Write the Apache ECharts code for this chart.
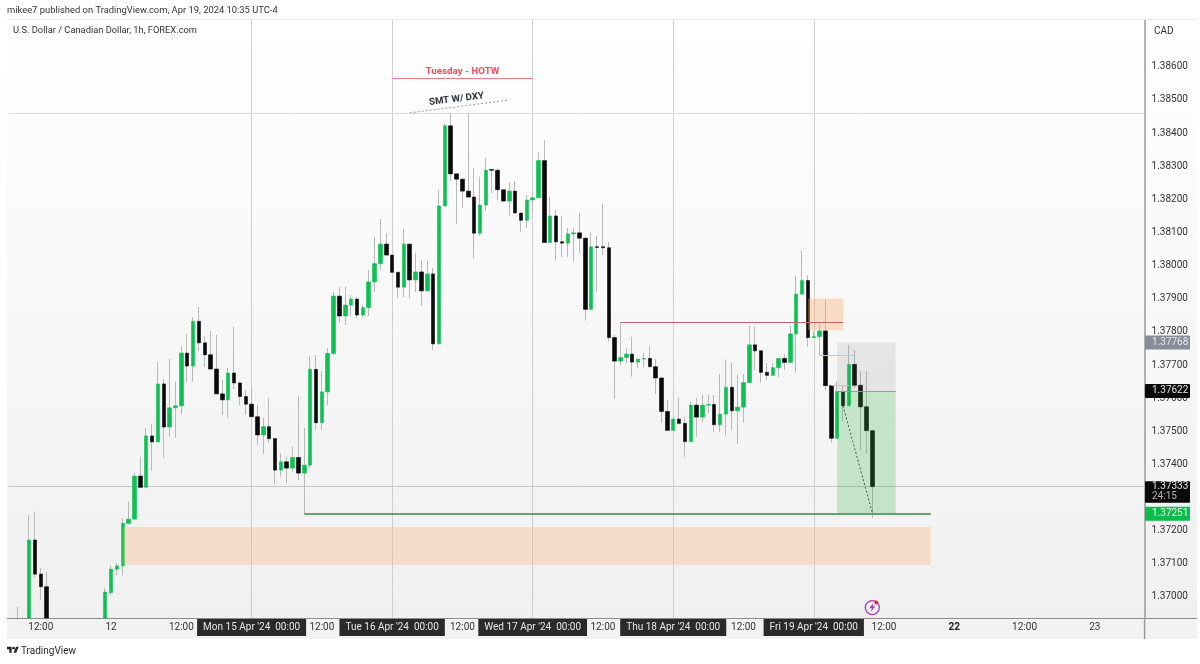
<!DOCTYPE html>
<html>
<head>
<meta charset="utf-8">
<title>USDCAD 1h</title>
<script src="https://cdn.jsdelivr.net/npm/echarts@6/dist/echarts.min.js"></script>
<style>
html, body { margin: 0; padding: 0; background: #fff; }
#chart { width: 1200px; height: 664px; }
</style>
</head>
<body>
<div id="chart"></div>
<script>
// USD/CAD 1h candles, one row per bar, null = nothing visible on the chart
var opens = [
  null,1.36880,1.36890,1.36900,1.37172,1.37069,1.37031,null,null,null,
  null,null,null,null,null,null,1.36900,1.37013,1.37084,1.37094,
  1.37222,1.37235,1.37365,1.37331,1.37486,1.37468,1.37643,1.37513,1.37571,1.37577,
  1.37736,1.37697,1.37832,1.37767,1.37731,1.37688,1.37613,1.37595,1.37676,1.37646,
  1.37605,1.37582,1.37544,1.37489,1.37514,1.37478,1.37383,1.37408,1.37389,1.37421,
  1.37374,1.37398,1.37687,1.37526,1.37619,1.37735,1.37908,1.37848,1.37881,1.37899,
  1.37851,1.37873,1.37951,1.38006,1.38065,1.38032,1.37980,1.37935,1.38065,1.37957,
  1.37981,1.37924,1.37975,1.37764,1.38180,1.38422,1.38277,1.38261,1.38225,1.38207,
  1.38098,1.38183,1.38290,1.38288,1.38229,1.38195,1.38225,1.38159,1.38137,1.38198,
  1.38205,1.38317,1.38070,1.38150,1.38072,1.38068,1.38096,1.38099,1.38083,1.37868,
  1.38057,1.38057,1.38054,1.37783,1.37712,1.37723,1.37733,1.37709,1.37718,1.37720,
  1.37695,1.37661,1.37560,1.37503,1.37537,1.37524,1.37469,1.37579,1.37543,1.37579,
  1.37581,1.37520,1.37552,1.37633,1.37562,1.37573,1.37647,1.37761,1.37743,1.37678,
  1.37669,1.37692,1.37720,1.37708,1.37794,1.37914,1.37955,1.37783,1.37786,1.37803,
  1.37638,1.37479,1.37620,1.37577,1.37702,1.37639,1.37574,1.37502
];
var closes = [
  null,1.36900,1.36870,1.37172,1.37069,1.37031,1.36910,null,null,null,
  null,null,null,null,null,null,1.37015,1.37084,1.37094,1.37222,
  1.37235,1.37365,1.37331,1.37486,1.37468,1.37643,1.37513,1.37571,1.37577,1.37736,
  1.37697,1.37832,1.37767,1.37731,1.37688,1.37613,1.37595,1.37676,1.37646,1.37605,
  1.37582,1.37544,1.37489,1.37514,1.37478,1.37383,1.37408,1.37389,1.37421,1.37374,
  1.37398,1.37687,1.37526,1.37619,1.37735,1.37908,1.37848,1.37881,1.37899,1.37851,
  1.37873,1.37951,1.38006,1.38065,1.38032,1.37980,1.37935,1.38065,1.37957,1.37981,
  1.37924,1.37975,1.37764,1.38180,1.38422,1.38277,1.38261,1.38225,1.38207,1.38098,
  1.38183,1.38288,1.38288,1.38229,1.38195,1.38225,1.38159,1.38137,1.38198,1.38205,
  1.38317,1.38070,1.38150,1.38072,1.38068,1.38096,1.38099,1.38083,1.37868,1.38057,
  1.38055,1.38054,1.37783,1.37712,1.37723,1.37733,1.37709,1.37718,1.37720,1.37695,
  1.37661,1.37560,1.37503,1.37537,1.37524,1.37469,1.37579,1.37543,1.37579,1.37581,
  1.37520,1.37552,1.37633,1.37562,1.37573,1.37647,1.37761,1.37743,1.37678,1.37669,
  1.37692,1.37720,1.37708,1.37794,1.37914,1.37955,1.37783,1.37786,1.37803,1.37638,
  1.37479,1.37620,1.37577,1.37702,1.37639,1.37574,1.37502,1.37333
];
var lows = [
  null,1.36860,1.36850,1.36880,1.37060,1.36991,1.36890,null,null,null,
  null,null,null,null,null,null,1.36880,1.37006,1.37066,1.37066,
  1.37222,1.37235,1.37331,1.37331,1.37381,1.37468,1.37419,1.37483,1.37480,1.37552,
  1.37650,1.37650,1.37742,1.37694,1.37685,1.37613,1.37549,1.37540,1.37628,1.37579,
  1.37549,1.37544,1.37457,1.37432,1.37465,1.37341,1.37363,1.37344,1.37378,1.37353,
  1.37251,1.37389,1.37504,1.37504,1.37579,1.37730,1.37827,1.37821,1.37846,1.37842,
  1.37843,1.37848,1.37921,1.37987,1.38032,1.37980,1.37902,1.37905,1.37902,1.37921,
  1.37879,1.37924,1.37745,1.37764,1.38180,1.38256,1.38126,1.38174,1.38207,1.38023,
  1.38090,1.38166,1.38219,1.38198,1.38192,1.38151,1.38159,1.38102,1.38114,1.38163,
  1.38205,1.38070,1.38070,1.38015,1.38026,1.38026,1.38012,1.38038,1.37834,1.37868,
  1.37921,1.38032,1.37771,1.37598,1.37700,1.37706,1.37665,1.37691,1.37692,1.37695,
  1.37613,1.37525,1.37503,1.37503,1.37520,1.37423,1.37469,1.37484,1.37528,1.37555,
  1.37499,1.37499,1.37487,1.37504,1.37462,1.37526,1.37647,1.37685,1.37647,1.37655,
  1.37669,1.37664,1.37685,1.37708,1.37677,1.37914,1.37755,1.37783,1.37730,1.37625,
  1.37465,1.37479,1.37529,1.37577,1.37631,1.37444,1.37432,1.37238
];
var highs = [
  null,1.36970,1.36940,1.37247,1.37257,1.37088,1.37076,null,null,null,
  null,null,null,null,null,null,1.37027,1.37095,1.37103,1.37238,
  1.37288,1.37374,1.37423,1.37510,1.37522,1.37710,1.37658,1.37718,1.37650,1.37758,
  1.37794,1.37845,1.37875,1.37788,1.37803,1.37791,1.37655,1.37691,1.37816,1.37650,
  1.37625,1.37634,1.37579,1.37541,1.37601,1.37478,1.37435,1.37423,1.37454,1.37607,
  1.37510,1.37727,1.37730,1.37683,1.37751,1.37921,1.37936,1.37937,1.37911,1.37905,
  1.37881,1.37987,1.38087,1.38141,1.38099,1.38032,1.37980,1.38111,1.38065,1.38038,
  1.38017,1.38015,1.37993,1.38228,1.38430,1.38461,1.38277,1.38261,1.38461,1.38295,
  1.38268,1.38325,1.38292,1.38293,1.38229,1.38252,1.38256,1.38159,1.38213,1.38222,
  1.38341,1.38379,1.38208,1.38168,1.38148,1.38114,1.38114,1.38159,1.38083,1.38102,
  1.38090,1.38186,1.38072,1.37791,1.37830,1.37751,1.37785,1.37718,1.37736,1.37758,
  1.37718,1.37661,1.37595,1.37537,1.37601,1.37543,1.37589,1.37601,1.37610,1.37610,
  1.37610,1.37673,1.37717,1.37707,1.37670,1.37673,1.37818,1.37816,1.37743,1.37706,
  1.37706,1.37720,1.37733,1.37818,1.37970,1.38045,1.37970,1.37800,1.37821,1.37899,
  1.37638,1.37650,1.37640,1.37761,1.37745,1.37680,1.37682,1.37502
];

var barCount = 194;
var priceMin = 1.369366, priceMax = 1.387414;
var priceTicks = [1.370,1.371,1.372,1.373,1.374,1.375,1.376,1.377,1.378,1.379,1.380,1.381,1.382,1.383,1.384,1.385,1.386];
var timeTickBars = [5,17,29,41,53,65,77,89,101,113,125,137,149,161,173,185];
var timeTickLabels = ['12:00','12','12:00',"Mon 15 Apr '24  00:00",'12:00',"Tue 16 Apr '24  00:00",'12:00',"Wed 17 Apr '24  00:00",'12:00',"Thu 18 Apr '24  00:00",'12:00',"Fri 19 Apr '24  00:00",'12:00','22','12:00','23'];
var daySeparatorBars = [41,65,89,113,137];

// levels drawn on the chart
var lastClose = 1.37333, weekHigh = 1.38461;
var entryLevel = 1.37622, stopLevel = 1.37768, targetLevel = 1.37251;
var demandZone = [1.37097, 1.37211], supplyZone = [1.37805, 1.37901];
var priceTags = [
  { price: stopLevel, text: '1.37768', bg: '#8a8d99', color: '#e8e8ee' },
  { price: entryLevel, text: '1.37622', bg: '#0a0a0a', color: '#e6e6e6' },
  { price: lastClose, text: '1.37333', sub: '24:15', bg: '#0a0a0a', color: '#e6e6e6' },
  { price: targetLevel, text: '1.37251', bg: '#0dbb4c', color: '#e9fff0' }
];

var UP = '#0fc055', DOWN = '#0a0a0a', WICK = '#b9b9b9';
var FONT = 'Roboto, "Liberation Sans", sans-serif';

function buildCategories() {
  var a = [];
  for (var i = 0; i < barCount; i++) a.push(String(i));
  return a;
}

// candlestick does not cut a bar at the grid edge, so hold the drawn values at the axis min
function floorToAxis(v) {
  return Math.max(v, priceMin);
}

function wickData() {
  return opens.map(function (o, i) {
    if (o === null) return '-';
    return [floorToAxis(o), floorToAxis(closes[i]), floorToAxis(lows[i]), floorToAxis(highs[i])];
  });
}

// wicks are grey and bodies are not, so the bodies get their own series
function bodyData() {
  return opens.map(function (o, i) {
    if (o === null || Math.max(o, closes[i]) < priceMin) return '-';
    var a = floorToAxis(o), b = floorToAxis(closes[i]);
    return [a, b, Math.min(a, b), Math.max(a, b)];
  });
}

function segment(x1, y1, x2, y2, color, width, type) {
  return [
    { coord: [x1, y1], lineStyle: { color: color, width: width, type: type || 'solid' } },
    { coord: [x2, y2] }
  ];
}

function labelFor(value, index) {
  var k = timeTickBars.indexOf(index);
  if (k < 0) return '';
  var t = timeTickLabels[k];
  if (t.length > 6) return '{box|' + t + '}';
  if (t === '22') return '{bold|' + t + '}';
  return '{plain|' + t + '}';
}

var myChart = echarts.init(document.getElementById('chart'), null, { renderer: 'canvas' });

var option = {
  animation: false,
  backgroundColor: '#ffffff',
  textStyle: { fontFamily: FONT },
  grid: { left: 8.6, top: 20, width: 1136, height: 598, containLabel: false },
  xAxis: {
    type: 'category',
    data: buildCategories(),
    boundaryGap: true,
    axisLine: { show: true, lineStyle: { color: '#8c8c8c', width: 1 } },
    axisTick: { show: false },
    splitLine: { show: false },
    axisLabel: {
      interval: function (index) { return timeTickBars.indexOf(index) >= 0; },
      margin: 0,
      hideOverlap: false,
      formatter: labelFor,
      rich: {
        plain: { color: '#333333', fontSize: 10, fontFamily: FONT, lineHeight: 18, height: 18 },
        bold: { color: '#222222', fontSize: 10, fontWeight: 'bold', fontFamily: FONT, lineHeight: 18, height: 18 },
        box: { color: '#e8e8e8', fontSize: 10, fontFamily: FONT, lineHeight: 18, height: 18, backgroundColor: '#2a2a2a', padding: [0, 6] }
      }
    }
  },
  yAxis: {
    type: 'value',
    position: 'right',
    scale: true,
    min: priceMin,
    max: priceMax,
    axisLine: { show: true, lineStyle: { color: '#9a9a9a', width: 1.5 } },
    axisTick: { show: false },
    splitLine: { show: false },
    axisLabel: {
      customValues: priceTicks,
      margin: 7,
      color: '#333333',
      fontSize: 10,
      fontFamily: FONT,
      formatter: function (v) { return v.toFixed(5); }
    }
  },
  series: [
    {
      name: 'guides',
      type: 'line',
      data: [],
      z: 1,
      silent: true,
      markLine: {
        silent: true,
        z: 1,
        precision: 5,
        symbol: 'none',
        label: { show: false },
        data: daySeparatorBars.map(function (b) {
          return { xAxis: b, lineStyle: { color: '#cfcfcf', width: 1, type: 'solid' } };
        }).concat([
          { yAxis: weekHigh, lineStyle: { color: '#dcdcdc', width: 1, type: 'solid' } },
          { yAxis: lastClose, lineStyle: { color: '#c4c4c4', width: 1, type: 'solid' } }
        ])
      }
    },
    {
      name: 'wicks',
      type: 'candlestick',
      z: 2,
      barWidth: 1,
      data: wickData(),
      itemStyle: { color: WICK, color0: WICK, borderColor: WICK, borderColor0: WICK, borderWidth: 1 }
    },
    {
      name: 'USD/CAD',
      type: 'candlestick',
      z: 3,
      barWidth: 4,
      data: bodyData(),
      itemStyle: { color: UP, color0: DOWN, borderColor: UP, borderColor0: DOWN, borderWidth: 0.6 }
    },
    {
      name: 'drawings',
      type: 'line',
      data: [],
      z: 4,
      silent: true,
      markArea: {
        silent: true,
        z: 4,
        label: { show: false },
        data: [
          [{ coord: [19, demandZone[1]], itemStyle: { color: 'rgba(255,176,118,0.32)' } }, { coord: [157, demandZone[0]] }],
          [{ coord: [136, supplyZone[1]], itemStyle: { color: 'rgba(255,165,100,0.34)' } }, { coord: [142, supplyZone[0]] }],
          [{ coord: [141, stopLevel], itemStyle: { color: 'rgba(120,120,120,0.14)' } }, { coord: [151, entryLevel] }],
          [{ coord: [141, entryLevel], itemStyle: { color: 'rgba(50,175,65,0.24)' } }, { coord: [151, targetLevel] }]
        ]
      },
      markLine: {
        silent: true,
        z: 5,
        symbol: 'none',
        label: { show: false },
        data: [
          segment(50, targetLevel, 157, targetLevel, '#2f8f3f', 1.5),
          segment(141, entryLevel, 151, entryLevel, '#9a9a9a', 1),
          segment(104, 1.37830, 142, 1.37830, '#c9616c', 1),
          segment(65, 1.38566, 89, 1.38566, '#ee7a85', 1.2),
          segment(68, 1.38461, 85, 1.38500, '#999999', 1, [2, 2]),
          segment(138, 1.37730, 144, 1.37730, '#a8cdf0', 1),
          segment(140, 1.37638, 143, 1.37638, '#a8cdf0', 1),
          segment(142, 1.37577, 147, 1.37254, '#2e6b3a', 1, [2, 2])
        ]
      },
      markPoint: {
        silent: true,
        z: 6,
        data: [
          {
            coord: [77, 1.38587], symbol: 'circle', symbolSize: 0,
            label: { show: true, position: 'inside', formatter: 'Tuesday - HOTW', color: '#ee4f5e', fontSize: 9.8, fontWeight: 'bold', fontFamily: FONT }
          },
          {
            coord: [76, 1.38502], symbol: 'circle', symbolSize: 0,
            label: { show: true, position: 'inside', rotate: 7, formatter: 'SMT W/ DXY', color: '#2a2e39', fontSize: 9.6, fontWeight: 'bold', fontFamily: FONT }
          },
          {
            coord: [147, 1.36968], symbol: 'circle', symbolSize: 14,
            itemStyle: { color: 'rgba(255,255,255,0)', borderColor: '#a43ac0', borderWidth: 1.3 },
            label: { show: false }
          },
          {
            coord: [147, 1.36968], symbol: 'path://M7 0 L1 8 H5 L3 14 L10 5 H6 Z', symbolSize: [6, 9],
            itemStyle: { color: '#a43ac0' },
            label: { show: false }
          },
          {
            coord: [147, 1.36968], symbol: 'circle', symbolSize: 4, symbolOffset: [4, -5],
            itemStyle: { color: '#e8243c' },
            label: { show: false }
          }
        ]
      }
    }
  ]
};
myChart.setOption(option);

// everything around the plot: panels, header, footer and the price tags on the scale
function frameGraphics() {
  var logoAt = { x: 7, y: 645.5, scaleX: 0.33, scaleY: 0.33, z: 2, silent: true };
  var items = [
    {
      type: 'rect', z: -10, silent: true,
      shape: { x: 7, y: 20, width: 1190, height: 598 },
      style: {
        fill: new echarts.graphic.LinearGradient(0, 0, 0, 1, [
          { offset: 0, color: '#ffffff' }, { offset: 1, color: '#f0f0f0' }
        ])
      }
    },
    { type: 'rect', z: -10, silent: true, shape: { x: 7, y: 618, width: 1190, height: 21 }, style: { fill: '#f2f2f2' } },
    { type: 'line', z: 1, silent: true, shape: { x1: 7, y1: 19.5, x2: 1197, y2: 19.5 }, style: { stroke: '#ebebeb', lineWidth: 1 } },
    { type: 'line', z: 1, silent: true, shape: { x1: 7, y1: 618.5, x2: 1197, y2: 618.5 }, style: { stroke: '#8c8c8c', lineWidth: 1 } },
    { type: 'line', z: 1, silent: true, shape: { x1: 1144.6, y1: 618, x2: 1144.6, y2: 639 }, style: { stroke: '#9a9a9a', lineWidth: 1.5 } },
    { type: 'rect', z: 1, silent: true, shape: { x: 1148, y: 22, width: 42, height: 18 }, style: { fill: '#ffffff' } },
    { type: 'text', z: 2, silent: true, x: 1154, y: 31, style: { text: 'CAD', fill: '#333333', font: '10px ' + FONT, verticalAlign: 'middle' } },
    { type: 'text', z: 2, silent: true, x: 7, y: 11, style: { text: 'mikee7 published on TradingView.com, Apr 19, 2024 10:35 UTC-4', fill: '#333333', font: '9.4px ' + FONT, verticalAlign: 'middle' } },
    { type: 'text', z: 2, silent: true, x: 13, y: 31, style: { text: 'U.S. Dollar / Canadian Dollar, 1h, FOREX.com', fill: '#333333', font: '9.3px ' + FONT, verticalAlign: 'middle' } },
    echarts.util.extend({ type: 'polygon', shape: { points: [[14, 22], [7, 22], [7, 11], [0, 11], [0, 4], [14, 4]] }, style: { fill: '#1e222d' } }, logoAt),
    echarts.util.extend({ type: 'polygon', shape: { points: [[28, 22], [20, 22], [27.5, 4], [35.5, 4]] }, style: { fill: '#1e222d' } }, logoAt),
    echarts.util.extend({ type: 'circle', shape: { cx: 20, cy: 8, r: 4 }, style: { fill: '#1e222d' } }, logoAt),
    { type: 'text', z: 2, silent: true, x: 21, y: 651, style: { text: 'TradingView', fill: '#1e222d', font: '10px ' + FONT, verticalAlign: 'middle' } }
  ];
  priceTags.forEach(function (tag) {
    var y = myChart.convertToPixel({ yAxisIndex: 0 }, tag.price);
    var top = tag.sub ? y - 5.5 : y - 7;
    var h = tag.sub ? 21.5 : 14;
    items.push({ type: 'rect', z: 5, silent: true, shape: { x: 1145, y: top, width: 45, height: h, r: 1 }, style: { fill: tag.bg } });
    items.push({ type: 'text', z: 6, silent: true, x: 1152, y: y, style: { text: tag.text, fill: tag.color, font: '10px ' + FONT, verticalAlign: 'middle' } });
    if (tag.sub) {
      items.push({ type: 'text', z: 6, silent: true, x: 1152, y: y + 10, style: { text: tag.sub, fill: '#b5b5b5', font: '10px ' + FONT, verticalAlign: 'middle' } });
    }
  });
  return items;
}

myChart.setOption({ graphic: { elements: frameGraphics() } });
</script>
</body>
</html>
